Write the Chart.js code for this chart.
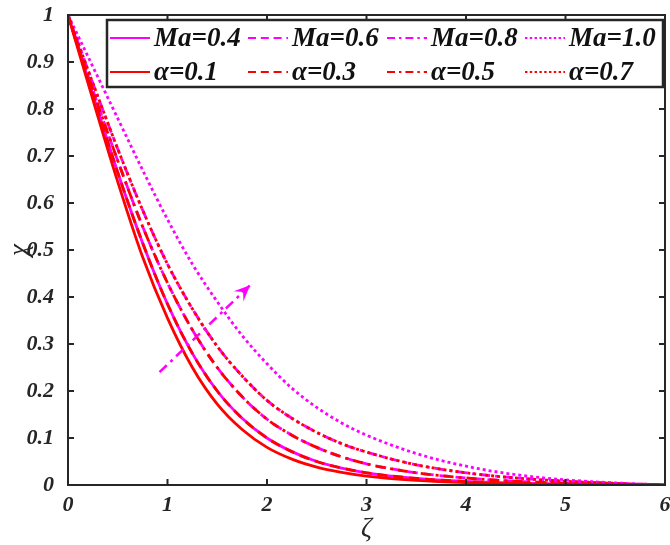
<!DOCTYPE html>
<html lang="en">
<head>
  <meta charset="UTF-8">
  <title>Concentration profile</title>
  <script src="https://cdn.jsdelivr.net/npm/chart.js"></script>
  <style>
    body {
      margin: 0;
      background: #ffffff;
    }
    canvas {
      display: block;
    }
  </style>
</head>
<body>
  <canvas id="profileChart" width="670" height="545"></canvas>

  <script>
    // values
    const zeta = [0, 0.25, 0.5, 0.75, 1, 1.25, 1.5, 1.75, 2, 2.25, 2.5, 2.75, 3, 3.5, 4, 4.5, 5, 5.5, 6];

    const chiMa04 = [1, 0.83, 0.665, 0.515, 0.385, 0.28, 0.2, 0.142, 0.1, 0.071, 0.05, 0.036, 0.026, 0.014, 0.0075, 0.004, 0.002, 0.0008, 0];
    const chiMa06 = [1, 0.84, 0.69, 0.55, 0.43, 0.33, 0.25, 0.188, 0.14, 0.106, 0.08, 0.06, 0.045, 0.026, 0.015, 0.008, 0.004, 0.0017, 0];
    const chiMa08 = [1, 0.855, 0.715, 0.585, 0.47, 0.375, 0.295, 0.232, 0.18, 0.142, 0.112, 0.088, 0.07, 0.043, 0.026, 0.015, 0.008, 0.0035, 0];
    const chiMa10 = [1, 0.89, 0.78, 0.67, 0.565, 0.47, 0.39, 0.318, 0.258, 0.206, 0.165, 0.132, 0.106, 0.067, 0.04, 0.022, 0.011, 0.0045, 0];

    const chiA01 = [1, 0.82, 0.645, 0.485, 0.355, 0.25, 0.172, 0.118, 0.08, 0.055, 0.038, 0.027, 0.019, 0.01, 0.005, 0.0025, 0.0012, 0.0005, 0];
    const chiA03 = [1, 0.83, 0.665, 0.515, 0.385, 0.28, 0.2, 0.142, 0.1, 0.071, 0.05, 0.036, 0.026, 0.014, 0.0075, 0.004, 0.002, 0.0008, 0];
    const chiA05 = [1, 0.84, 0.69, 0.55, 0.43, 0.33, 0.25, 0.188, 0.14, 0.106, 0.08, 0.06, 0.045, 0.026, 0.015, 0.008, 0.004, 0.0017, 0];
    const chiA07 = [1, 0.855, 0.715, 0.585, 0.47, 0.375, 0.295, 0.232, 0.18, 0.142, 0.112, 0.088, 0.07, 0.043, 0.026, 0.015, 0.008, 0.0035, 0];

    const arrowX = [0.92, 1.83];
    const arrowY = [0.24, 0.425];

    const xTicks = [0, 1, 2, 3, 4, 5, 6];
    const xTickLabels = ['0', '1', '2', '3', '4', '5', '6'];
    const yTicks = [0, 0.1, 0.2, 0.3, 0.4, 0.5, 0.6, 0.7, 0.8, 0.9, 1];
    const yTickLabels = ['0', '0.1', '0.2', '0.3', '0.4', '0.5', '0.6', '0.7', '0.8', '0.9', '1'];

    const legendLabels = ['Ma=0.4', 'Ma=0.6', 'Ma=0.8', 'Ma=1.0', 'α=0.1', 'α=0.3', 'α=0.5', 'α=0.7'];

    const MAGENTA = '#ff00ff';
    const RED = '#ff0000';
    const AXIS = '#262626';
    const SERIF = '"Liberation Serif", "Times New Roman", serif';

    const DASHES = {
      solid: [],
      dashed: [10, 6],
      dashdot: [10, 5, 3, 5],
      dotted: [3, 3]
    };

    function series(values, color, dash, order) {
      return {
        data: values.map((v, i) => ({ x: zeta[i], y: v })),
        borderColor: color,
        borderWidth: 2.8,
        borderDash: DASHES[dash],
        pointRadius: 0,
        fill: false,
        cubicInterpolationMode: 'monotone',
        order: order
      };
    }

    const datasets = [
      series(chiMa04, MAGENTA, 'solid', 2),
      series(chiMa06, MAGENTA, 'dashed', 2),
      series(chiMa08, MAGENTA, 'dashdot', 2),
      series(chiMa10, MAGENTA, 'dotted', 2),
      series(chiA01, RED, 'solid', 1),
      series(chiA03, RED, 'dashed', 1),
      series(chiA05, RED, 'dashdot', 1),
      series(chiA07, RED, 'dotted', 1)
    ];

    datasets.push({
      data: arrowX.map((v, i) => ({ x: v, y: arrowY[i] })),
      borderColor: MAGENTA,
      borderWidth: 2.5,
      borderDash: DASHES.dashdot,
      pointRadius: 0,
      fill: false,
      order: 0
    });

    // frame, inward ticks, arrow head and the legend box
    const framePlugin = {
      id: 'frame',
      afterDraw(chart) {
        const ctx = chart.ctx;
        const a = chart.chartArea;
        const xs = chart.scales.x;
        const ys = chart.scales.y;
        ctx.save();

        // arrow head
        const ax0 = xs.getPixelForValue(arrowX[0]);
        const ay0 = ys.getPixelForValue(arrowY[0]);
        const ax1 = xs.getPixelForValue(arrowX[1]);
        const ay1 = ys.getPixelForValue(arrowY[1]);
        const ang = Math.atan2(ay1 - ay0, ax1 - ax0);
        const hl = 16, hw = 7;
        ctx.fillStyle = MAGENTA;
        ctx.beginPath();
        ctx.moveTo(ax1, ay1);
        ctx.lineTo(ax1 - hl * Math.cos(ang) + hw * Math.sin(ang), ay1 - hl * Math.sin(ang) - hw * Math.cos(ang));
        ctx.lineTo(ax1 - hl * 0.6 * Math.cos(ang), ay1 - hl * 0.6 * Math.sin(ang));
        ctx.lineTo(ax1 - hl * Math.cos(ang) - hw * Math.sin(ang), ay1 - hl * Math.sin(ang) + hw * Math.cos(ang));
        ctx.closePath();
        ctx.fill();

        // box + ticks
        ctx.strokeStyle = AXIS;
        ctx.lineWidth = 2;
        ctx.setLineDash([]);
        ctx.strokeRect(a.left, a.top, a.right - a.left, a.bottom - a.top);
        const tl = 6;
        ctx.beginPath();
        xTicks.forEach(v => {
          const px = xs.getPixelForValue(v);
          ctx.moveTo(px, a.bottom); ctx.lineTo(px, a.bottom - tl);
          ctx.moveTo(px, a.top); ctx.lineTo(px, a.top + tl);
        });
        yTicks.forEach(v => {
          const py = ys.getPixelForValue(v);
          ctx.moveTo(a.left, py); ctx.lineTo(a.left + tl, py);
          ctx.moveTo(a.right, py); ctx.lineTo(a.right - tl, py);
        });
        ctx.stroke();

        // legend
        const box = { left: 107, top: 20, right: 663, bottom: 87 };
        ctx.fillStyle = '#ffffff';
        ctx.fillRect(box.left, box.top, box.right - box.left, box.bottom - box.top);
        ctx.lineWidth = 2.5;
        ctx.strokeStyle = AXIS;
        ctx.strokeRect(box.left, box.top, box.right - box.left, box.bottom - box.top);

        const colX = [110, 248, 387, 525];
        const rowY = [38, 72];
        ctx.font = 'italic bold 27px ' + SERIF;
        ctx.textBaseline = 'middle';
        ctx.textAlign = 'left';
        legendLabels.forEach((label, i) => {
          const ds = chart.data.datasets[i];
          const x = colX[i % 4];
          const y = rowY[Math.floor(i / 4)];
          ctx.strokeStyle = ds.borderColor;
          ctx.lineWidth = 2;
          ctx.setLineDash(ds.borderDash.map(d => d * 0.8));
          ctx.beginPath();
          ctx.moveTo(x, y);
          ctx.lineTo(x + 40, y);
          ctx.stroke();
          ctx.setLineDash([]);
          ctx.fillStyle = '#111111';
          ctx.fillText(label, x + 44, y + 1);
        });
        ctx.restore();
      }
    };

    const tickFont = { family: SERIF, style: 'italic', weight: 'bold', size: 22 };

    new Chart(document.getElementById('profileChart').getContext('2d'), {
      type: 'line',
      data: { datasets: datasets },
      options: {
        responsive: false,
        animation: false,
        layout: { padding: { top: 15, right: 5, left: 0, bottom: 0 } },
        plugins: {
          legend: { display: false },
          tooltip: { enabled: false }
        },
        scales: {
          x: {
            type: 'linear',
            min: 0,
            max: 6,
            afterBuildTicks: s => { s.ticks = xTicks.map(v => ({ value: v })); },
            afterFit: s => { s.height = 60; s.paddingLeft = 0; s.paddingRight = 0; },
            grid: { display: false },
            border: { display: false },
            ticks: {
              font: tickFont,
              color: AXIS,
              padding: -1,
              maxRotation: 0,
              callback: (v, i) => xTickLabels[i]
            },
            title: {
              display: true,
              text: 'ζ',
              color: AXIS,
              font: { family: SERIF, style: 'italic', size: 27 },
              padding: { top: 0, bottom: 0 }
            }
          },
          y: {
            type: 'linear',
            min: 0,
            max: 1,
            afterBuildTicks: s => { s.ticks = yTicks.map(v => ({ value: v })); },
            afterFit: s => { s.width = 68; s.paddingTop = 0; s.paddingBottom = 0; },
            grid: { display: false },
            border: { display: false },
            ticks: {
              font: tickFont,
              color: AXIS,
              padding: 6,
              callback: (v, i) => yTickLabels[i]
            },
            title: {
              display: true,
              text: 'χ',
              color: AXIS,
              font: { family: SERIF, style: 'italic', size: 27 },
              padding: { top: 4, bottom: 0 }
            }
          }
        }
      },
      plugins: [framePlugin]
    });
  </script>
</body>
</html>
